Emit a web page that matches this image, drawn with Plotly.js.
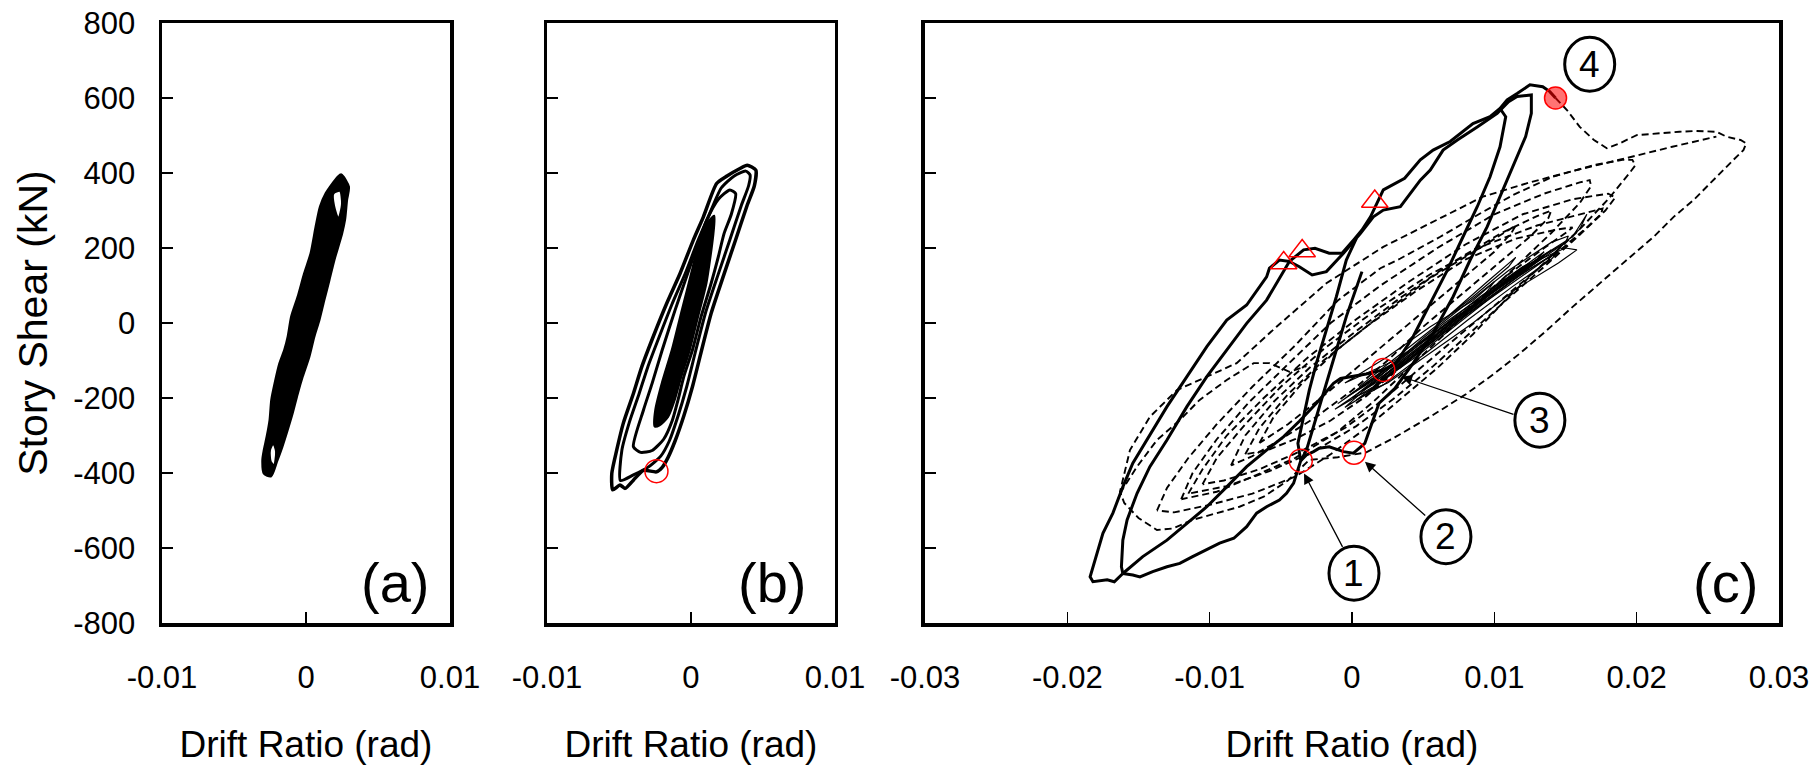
<!DOCTYPE html>
<html><head><meta charset="utf-8">
<script src="https://cdn.plot.ly/plotly-3.0.1.min.js"></script>
<style>html,body{margin:0;padding:0;background:#fff;}#chart{width:1818px;height:765px;}</style>
</head><body><div id="chart"></div>
<script>
// ---------- tick labels ----------
const xTickValsAB = [-0.01, 0, 0.01];
const xTickTextAB = ['-0.01', '0', '0.01'];
const xTickValsC = [-0.03, -0.02, -0.01, 0, 0.01, 0.02, 0.03];
const xTickTextC = ['-0.03', '-0.02', '-0.01', '0', '0.01', '0.02', '0.03'];
const yTickVals = [-800, -600, -400, -200, 0, 200, 400, 600, 800];
const yTickText = ['-800', '-600', '-400', '-200', '0', '200', '400', '600', '800'];
const panelLabels = ['(a)', '(b)', '(c)'];
const xTitle = 'Drift Ratio (rad)';
const yTitle = 'Story Shear (kN)';

// ---------- panel (a): dense hysteresis band ----------
const aOuterX = [0.00224,0.0014,0.001,0.0007,0.00035,-0.0001,-0.00055,-0.001,-0.00124,-0.00148,-0.00182,-0.00215,-0.00238,-0.0025,-0.0027,-0.0029,-0.003,-0.0029,-0.00245,-0.00205,-0.00167,-0.0013,-0.00096,-0.0006,-0.00026,0.0002,0.00055,0.0009,0.00124,0.0016,0.00194,0.00248,0.00268,0.00282,0.00295,0.00245,0.00224];
const aOuterY = [390,346,310,257,186,132,70,17,-36,-72,-108,-161,-205,-259,-303,-339,-365,-401,-408,-370,-330,-285,-241,-188,-143,-90,-36,8,61,115,168,239,275,328,363,395,390];
const aHoleTopX = [0.0019,0.00236,0.0025,0.00225,0.00195,0.0019];
const aHoleTopY = [345,352,318,278,312,345];
const aHoleBotX = [-0.0025,-0.00227,-0.00208,-0.00222,-0.00245,-0.0025];
const aHoleBotY = [-339,-321,-343,-379,-370,-339];

// ---------- panel (b) ----------
const bOuterX = [0.00178,0.00086,0.00016,-0.00076,-0.00169,-0.00262,-0.00342,-0.0040,-0.0047,-0.00516,-0.0055,-0.00544,-0.00493,-0.00458,-0.0040,-0.0033,-0.0024,-0.0020,-0.0016,-0.0011,-0.0005,0.0001,0.0007,0.0014,0.0023,0.0031,0.0039,0.0044,0.0045,0.0039,0.0034,0.0025,0.00178];
const bOuterY = [372,283,221,132,52,-36,-117,-188,-267,-339,-401,-445,-432,-441,-419,-393,-397,-385,-359,-314,-248,-170,-78,26,131,222,314,366,408,421,412,392,372];
const bLoop1X = [-0.0049,-0.0048,-0.0043,-0.0036,-0.0030,-0.0022,-0.0013,-0.0004,0.0005,0.0012,0.0021,0.0030,0.0038,0.0041,0.0040,0.0035,0.0027,0.0019,0.0010,0.0003,-0.0003,-0.0009,-0.0015,-0.0021,-0.0030,-0.0040,-0.0049];
const bLoop1Y = [-420,-339,-267,-188,-117,-36,52,132,221,283,360,392,405,395,366,314,222,131,26,-78,-170,-248,-314,-355,-385,-405,-420];
const bLoop2X = [-0.0040,-0.0033,-0.0027,-0.0020,-0.0011,-0.00015,0.0005,0.0011,0.0019,0.0027,0.0031,0.0028,0.0023,0.0019,0.0014,0.0007,0.0001,-0.0005,-0.0009,-0.0013,-0.0019,-0.0027,-0.0035,-0.0040];
const bLoop2Y = [-330,-232,-161,-72,35,141,213,275,330,355,345,290,239,177,106,17,-72,-143,-205,-260,-310,-340,-345,-330];
const bCoreX = [-0.0025,-0.00245,-0.002,-0.0013,-0.0006,0.0001,0.00056,0.0011,0.0016,0.0015,0.00104,0.00046,-0.00012,-0.0007,-0.00116,-0.00162,-0.0022,-0.0025];
const bCoreY = [-275,-232,-161,-72,35,141,213,262,285,230,106,17,-72,-143,-205,-250,-272,-275];
const bMarkX = [-0.0024];
const bMarkY = [-395];

// ---------- panel (c): thick solid paths ----------
const cLineAX = [-0.0161,-0.0167,-0.0172,-0.0182,-0.0184,-0.0182,-0.0179,-0.0175,-0.0168,-0.0161,-0.0154,-0.0144,-0.0130,-0.0116,-0.0102,-0.0088,-0.0074,-0.0060,-0.0058,-0.0051,-0.0044,-0.0034,-0.0026,-0.0016,-0.0007,0.0001,0.0007,0.0013,0.0022,0.0037,0.0048,0.0057,0.0069,0.0085,0.0097,0.0104,0.0109,0.0116,0.0125,0.0134,0.0139,0.0143];
const cLineAY = [-668,-690,-685,-690,-677,-650,-614,-561,-507,-437,-374,-312,-223,-143,-63,8,48,123,146,168,164,195,199,186,186,221,248,283,355,386,435,461,484,532,550,572,595,612,635,630,617,600];
const cLineBX = [-0.0161,-0.0162,-0.0161,-0.0158,-0.0151,-0.0142,-0.0130,-0.0116,-0.0102,-0.0088,-0.0074,-0.0060,-0.0049,-0.0044,-0.0037,-0.0028,-0.0018,-0.0006,0.0006,0.0015,0.0022,0.0034,0.0048,0.0055,0.0064,0.0074,0.0088,0.0102,0.0110,0.0116,0.0126,0.0126,0.0122,0.0113,0.0104,0.0095,0.0083,0.0071,0.0057,0.0043,0.0030,0.0019,0.0014,0.0009,0.0001,-0.0006,-0.0016,-0.0023,-0.0027,-0.0032,-0.0036];
const cLineBY = [-668,-650,-579,-525,-454,-383,-312,-223,-143,-72,-1,61,132,164,150,128,137,186,239,283,301,310,381,408,461,488,523,559,590,604,608,559,497,417,337,257,168,70,-27,-107,-175,-214,-267,-321,-347,-343,-330,-334,-343,-352,-367];
const cLineCX = [-0.0036,-0.0038,-0.0034,-0.0030,-0.0025,-0.0018,-0.0011,-0.0004,0.0003];
const cLineCY = [-367,-321,-250,-179,-107,-19,70,168,225];
const cLineDX = [0.0007,-0.0004,-0.0011,-0.0018,-0.0025,-0.0032,-0.0036];
const cLineDY = [137,17,-72,-161,-250,-339,-367];
const cLineEX = [-0.0161,-0.0147,-0.0130,-0.0116,-0.0102,-0.0088,-0.0074,-0.0060,-0.0048,-0.0037,-0.0025,-0.0013,-0.0008,0.0010,0.0022];
const cLineEY = [-668,-623,-579,-534,-490,-437,-383,-339,-303,-262,-214,-161,-148,-136,-125];
const cLineFX = [0.0022,0.0031,0.0043,0.0055,0.0067,0.0078,0.0088,0.0097,0.0104,0.0108,0.0104];
const cLineFY = [-125,-107,-36,52,141,230,310,390,470,550,572];
const cLineGX = [-0.0161,-0.0154,-0.0149,-0.0140,-0.0130,-0.0121,-0.0112,-0.0102,-0.0093,-0.0083,-0.0074,-0.0067,-0.0060,-0.0051,-0.0046,-0.0041,-0.0037,-0.0036];
const cLineGY = [-668,-672,-677,-663,-650,-641,-623,-605,-587,-574,-543,-507,-490,-472,-454,-427,-383,-367];

// ---------- panel (c): thin solid small cycles ----------
const cThin1X = [-0.0005,0.0020,0.0050,0.0080,0.0110,0.0140,0.0152,0.0150,0.0125,0.0095,0.0065,0.0035,0.0010,-0.0005];
const cThin1Y = [-225,-140,-40,50,140,215,232,215,150,70,-20,-110,-190,-225];
const cThin2X = [0.0000,0.0030,0.0060,0.0090,0.0120,0.0150,0.0158,0.0145,0.0115,0.0085,0.0055,0.0025,0.0000];
const cThin2Y = [-200,-110,-20,70,150,200,195,160,90,0,-80,-160,-200];
const cThin3X = [0.0010,0.0040,0.0070,0.0100,0.0130,0.0155,0.0165,0.0160,0.0140,0.0110,0.0080,0.0050,0.0020,0.0010];
const cThin3Y = [-190,-90,0,90,170,230,290,250,180,100,20,-70,-160,-190];
const cThin4X = [-0.0010,0.0015,0.0045,0.0075,0.0105,0.0125,0.0120,0.0095,0.0065,0.0035,0.0010,-0.0010];
const cThin4Y = [-215,-150,-60,20,100,160,150,80,0,-90,-160,-215];
const cThin5X = [0.0005,0.0035,0.0065,0.0095,0.0115,0.0110,0.0085,0.0055,0.0025,0.0005];
const cThin5Y = [-170,-80,10,110,175,150,70,-20,-110,-170];
const cThin6X = [0.0020,0.0050,0.0080,0.0110,0.0135,0.0130,0.0100,0.0070,0.0040,0.0020];
const cThin6Y = [-150,-60,30,120,190,170,90,0,-90,-150];
const cThin7X = [-0.0005,0.0025,0.0055,0.0085,0.0100,0.0090,0.0060,0.0030,-0.0005];
const cThin7Y = [-160,-90,-10,60,110,60,-20,-100,-160];
const cThin8X = [-0.0012,0.0015,0.0045,0.0075,0.0105,0.0130,0.0140,0.0132,0.0105,0.0075,0.0045,0.0015,-0.0012];
const cThin8Y = [-230,-160,-75,15,100,170,195,170,90,0,-90,-170,-230];
const cThin9X = [0.0003,0.0033,0.0063,0.0093,0.0123,0.0145,0.0140,0.0112,0.0082,0.0052,0.0022,0.0003];
const cThin9Y = [-205,-120,-30,60,140,190,170,95,10,-80,-165,-205];
const cThin10X = [0.0008,0.0038,0.0068,0.0098,0.0128,0.0148,0.0142,0.0115,0.0085,0.0055,0.0025,0.0008];
const cThin10Y = [-180,-95,-5,85,165,210,185,120,35,-55,-140,-180];
const cThin11X = [-0.0003,0.0027,0.0057,0.0087,0.0117,0.0135,0.0128,0.0100,0.0070,0.0040,0.0010,-0.0003];
const cThin11Y = [-195,-115,-30,55,135,180,160,85,0,-85,-165,-195];
const cThin12X = [0.0015,0.0045,0.0075,0.0105,0.0125,0.0118,0.0090,0.0060,0.0030,0.0015];
const cThin12Y = [-170,-80,10,100,150,135,60,-25,-115,-170];

// ---------- panel (c): dashed cycles ----------
const cDash1X = [0.0143,0.0151,0.0160,0.0170,0.0179,0.0188,0.0200,0.0216,0.0230,0.0242,0.0256,0.0263,0.0273,0.0277,0.0275,0.0268,0.0254,0.0240,0.0226,0.0212,0.0193,0.0174,0.0155,0.0137,0.0118,0.0100,0.0080,0.0055,0.0030,0.0010,-0.0010,-0.0030,-0.0045,-0.0062,-0.0079,-0.0095,-0.0112,-0.0126,-0.0137,-0.0150,-0.0160,-0.0163,-0.0156,-0.0142,-0.0123,-0.0100,-0.0081,-0.0053,-0.0018,0.0022,0.0060,0.0092,0.0125,0.0160,0.0193,0.0225,0.0256];
const cDash1Y = [600,568,523,488,466,479,501,506,510,512,510,497,488,479,461,435,381,328,283,230,168,106,43,-19,-81,-135,-190,-250,-305,-345,-358,-365,-420,-463,-490,-507,-525,-548,-552,-520,-480,-450,-339,-250,-179,-140,-107,-10,106,203,275,337,375,410,440,470,497];
const cDash2X = [-0.0137,-0.0130,-0.0115,-0.0095,-0.0070,-0.0040,-0.0010,0.0020,0.0034,0.0062,0.0090,0.0113,0.0141,0.0170,0.0190,0.0197,0.0199,0.0195,0.0180,0.0160,0.0135,0.0110,0.0085,0.0060,0.0035,0.0010,-0.0015,-0.0040,-0.0070,-0.0100,-0.0125,-0.0137];
const cDash2Y = [-500,-440,-360,-270,-170,-60,60,146,172,230,292,341,390,421,435,435,420,400,330,250,160,70,-30,-120,-200,-280,-350,-410,-455,-485,-505,-500];
const cDash3X = [-0.0120,-0.0112,-0.0095,-0.0072,-0.0045,-0.0015,0.0020,0.0060,0.0100,0.0135,0.0160,0.0167,0.0168,0.0160,0.0140,0.0115,0.0090,0.0065,0.0040,0.0015,-0.0010,-0.0040,-0.0070,-0.0095,-0.0120];
const cDash3Y = [-470,-400,-310,-210,-110,0,100,200,290,345,375,381,365,320,240,150,60,-30,-120,-210,-290,-360,-410,-450,-470];
const cDash4X = [-0.0105,-0.0095,-0.0075,-0.0050,-0.0020,0.0015,0.0055,0.0095,0.0130,0.0160,0.0176,0.0175,0.0165,0.0145,0.0120,0.0095,0.0070,0.0045,0.0020,-0.0005,-0.0035,-0.0065,-0.0090,-0.0105];
const cDash4Y = [-430,-360,-270,-170,-70,30,130,210,260,290,305,290,255,190,110,30,-50,-130,-210,-280,-340,-390,-420,-430];
const cDash5X = [-0.0085,-0.0075,-0.0055,-0.0030,0.0000,0.0035,0.0070,0.0105,0.0130,0.0140,0.0138,0.0125,0.0100,0.0075,0.0050,0.0025,0.0000,-0.0025,-0.0050,-0.0070,-0.0085];
const cDash5Y = [-380,-300,-210,-120,-30,70,160,240,285,300,280,230,150,70,-10,-100,-180,-250,-310,-355,-380];
const cDash6X = [-0.0065,-0.0055,-0.0035,-0.0010,0.0020,0.0055,0.0090,0.0115,0.0112,0.0100,0.0075,0.0050,0.0025,0.0000,-0.0025,-0.0045,-0.0065];
const cDash6Y = [-320,-250,-160,-70,20,120,200,260,240,190,110,30,-50,-130,-210,-270,-320];
const cDash7X = [-0.0163,-0.0151,-0.0137,-0.0121,-0.0107,-0.0088,-0.0069,-0.0058,-0.0044,-0.0032];
const cDash7Y = [-454,-383,-312,-259,-205,-152,-107,-107,-130,-115];
const cDash8X = [-0.0115,-0.0105,-0.0088,-0.0062,-0.0032,0.0003,0.0040,0.0080,0.0120,0.0155,0.0180,0.0185,0.0178,0.0160,0.0135,0.0108,0.0082,0.0057,0.0030,0.0003,-0.0028,-0.0058,-0.0088,-0.0115];
const cDash8Y = [-455,-390,-300,-200,-95,10,110,210,290,330,345,335,300,235,150,60,-30,-115,-200,-275,-345,-395,-435,-455];
const cDash9X = [-0.0075,-0.0065,-0.0045,-0.0020,0.0010,0.0045,0.0080,0.0115,0.0145,0.0155,0.0150,0.0135,0.0110,0.0085,0.0060,0.0035,0.0010,-0.0015,-0.0040,-0.0060,-0.0075];
const cDash9Y = [-350,-280,-190,-100,-10,85,170,225,250,255,240,200,130,50,-30,-115,-195,-260,-310,-340,-350];

// ---------- panel (c): red markers ----------
const cOpenCircX = [-0.0036, 0.00014, 0.0022];
const cOpenCircY = [-367, -346, -125];
const cTriX = [-0.0048, -0.0035, 0.0016];
const cTriY = [160, 192, 324];
const cFillX = [0.0143];
const cFillY = [600];

// ---------- panel (c): circled event numbers and arrows ----------
const evtLabels = ['1', '2', '3', '4'];
const evtX = [0.00014, 0.0066, 0.0132, 0.0167];
const evtY = [-667, -570, -259, 690];
const arrHeadX = [-0.00337, 0.00091, 0.00349];
const arrHeadY = [-401, -370, -143];
const arrTailX = [-0.00061, 0.00525, 0.01145];
const arrTailY = [-601, -517, -245];

// =====================================================
const FONT = 'Liberation Sans, Arial, Helvetica, sans-serif';
const traces = [];
function add(x, y, ax, extra) {
  const n = ax === 1 ? '' : String(ax);
  traces.push(Object.assign({x: x, y: y, xaxis: 'x' + n, yaxis: 'y' + n, mode: 'lines',
    hoverinfo: 'skip', showlegend: false}, extra));
}
// (a)
add(aOuterX, aOuterY, 1, {fill: 'toself', fillcolor: '#000', line: {color: '#000', width: 3, shape: 'spline', smoothing: 0.7}});
add(aHoleTopX, aHoleTopY, 1, {fill: 'toself', fillcolor: '#fff', line: {color: '#000', width: 2, shape: 'spline', smoothing: 0.7}});
add(aHoleBotX, aHoleBotY, 1, {fill: 'toself', fillcolor: '#fff', line: {color: '#000', width: 2, shape: 'spline', smoothing: 0.7}});
// (b)
add(bOuterX, bOuterY, 2, {line: {color: '#000', width: 3.5, shape: 'spline', smoothing: 0.6}});
add(bLoop1X, bLoop1Y, 2, {line: {color: '#000', width: 3, shape: 'spline', smoothing: 0.6}});
add(bLoop2X, bLoop2Y, 2, {line: {color: '#000', width: 3, shape: 'spline', smoothing: 0.6}});
add(bCoreX, bCoreY, 2, {fill: 'toself', fillcolor: '#000', line: {color: '#000', width: 3, shape: 'spline', smoothing: 0.6}});
add(bMarkX, bMarkY, 2, {mode: 'markers', marker: {symbol: 'circle-open', size: 23, color: '#ff0000', line: {width: 1.5, color: '#ff0000'}}});
// (c) dashed
[[cDash1X, cDash1Y], [cDash2X, cDash2Y], [cDash3X, cDash3Y], [cDash4X, cDash4Y], [cDash5X, cDash5Y],
 [cDash6X, cDash6Y], [cDash7X, cDash7Y], [cDash8X, cDash8Y], [cDash9X, cDash9Y]].forEach(function (d) {
  add(d[0], d[1], 3, {line: {color: '#000', width: 1.9, dash: '7px,4px'}});
});
// (c) thin
[[cThin1X, cThin1Y], [cThin2X, cThin2Y], [cThin3X, cThin3Y], [cThin4X, cThin4Y], [cThin5X, cThin5Y], [cThin6X, cThin6Y],
 [cThin7X, cThin7Y], [cThin8X, cThin8Y], [cThin9X, cThin9Y], [cThin10X, cThin10Y], [cThin11X, cThin11Y], [cThin12X, cThin12Y]].forEach(function (d) {
  add(d[0], d[1], 3, {line: {color: '#000', width: 1.2}});
});
// (c) thick
[[cLineAX, cLineAY], [cLineBX, cLineBY], [cLineCX, cLineCY], [cLineDX, cLineDY],
 [cLineEX, cLineEY], [cLineFX, cLineFY], [cLineGX, cLineGY]].forEach(function (d) {
  add(d[0], d[1], 3, {line: {color: '#000', width: 3}});
});
// (c) markers
add(cOpenCircX, cOpenCircY, 3, {mode: 'markers', marker: {symbol: 'circle-open', size: 23, color: '#ff0000', line: {width: 1.5, color: '#ff0000'}}});
add(cTriX, cTriY, 3, {mode: 'markers', marker: {symbol: 'triangle-up-open', size: 23, color: '#ff0000', line: {width: 1.5, color: '#ff0000'}}});
add(cFillX, cFillY, 3, {mode: 'markers', marker: {symbol: 'circle', size: 22, color: 'rgba(255,0,0,0.55)', line: {width: 1.5, color: '#ff0000'}}});

const axCommon = {
  showgrid: false, zeroline: false, showline: true, linecolor: '#000', linewidth: 3.5, mirror: true,
  ticks: 'inside', ticklen: 11, tickwidth: 1.5, tickcolor: '#000', fixedrange: true,
  tickfont: {family: FONT, size: 31, color: '#000'}
};
function xAx(domain, anchor, range, vals, text) {
  return Object.assign({}, axCommon, {domain: domain, anchor: anchor, range: range,
    tickmode: 'array', tickvals: vals, ticktext: text, ticklabelstandoff: 24,
    title: {text: xTitle, font: {family: FONT, size: 37, color: '#000'}, standoff: 38}});
}
function yAx(anchor, showLabels) {
  const o = Object.assign({}, axCommon, {domain: [0, 1], anchor: anchor, range: [-800, 800],
    tickmode: 'array', tickvals: yTickVals, ticktext: yTickText, showticklabels: showLabels});
  if (showLabels) {
    o.ticklabelstandoff = 17;
    o.title = {text: yTitle, font: {family: FONT, size: 41, color: '#000'}, standoff: 14};
  }
  return o;
}

const annotations = [];
const labelX = [0.935, 0.905, 0.978];
['x', 'x2', 'x3'].forEach(function (xa, i) {
  annotations.push({xref: xa + ' domain', yref: (i === 0 ? 'y' : 'y' + (i + 1)) + ' domain',
    x: labelX[i], y: 0.068, xanchor: 'right', yanchor: 'middle', showarrow: false,
    text: panelLabels[i], font: {family: FONT, size: 56, color: '#000'}});
});
evtLabels.forEach(function (t, i) {
  annotations.push({xref: 'x3', yref: 'y3', x: evtX[i], y: evtY[i], showarrow: false,
    text: t, font: {family: FONT, size: 37, color: '#000'}, xanchor: 'center', yanchor: 'middle'});
});
arrHeadX.forEach(function (hx, i) {
  annotations.push({xref: 'x3', yref: 'y3', axref: 'x3', ayref: 'y3', x: hx, y: arrHeadY[i],
    ax: arrTailX[i], ay: arrTailY[i], text: '', showarrow: true, arrowhead: 2, arrowsize: 1.6,
    arrowwidth: 1.3, arrowcolor: '#000', standoff: 0, startstandoff: 0});
});
const shapes = evtX.map(function (cx, i) {
  return {type: 'circle', xref: 'x3', yref: 'y3', xsizemode: 'pixel', ysizemode: 'pixel',
    xanchor: cx, yanchor: evtY[i], x0: -25, x1: 25, y0: -27, y1: 27,
    line: {color: '#000', width: 3}, fillcolor: 'rgba(0,0,0,0)'};
});

const layout = {
  width: 1818, height: 765, paper_bgcolor: '#fff', plot_bgcolor: '#fff',
  margin: {l: 162, r: 39, t: 23, b: 142},
  showlegend: false, font: {family: FONT, color: '#000'},
  xaxis: xAx([0, 0.17811], 'y', [-0.01, 0.01], xTickValsAB, xTickTextAB),
  xaxis2: xAx([0.23810, 0.41620], 'y2', [-0.01, 0.01], xTickValsAB, xTickTextAB),
  xaxis3: xAx([0.47186, 1], 'y3', [-0.03, 0.03], xTickValsC, xTickTextC),
  yaxis: yAx('x', true),
  yaxis2: yAx('x2', false),
  yaxis3: yAx('x3', false),
  annotations: annotations,
  shapes: shapes
};
Plotly.newPlot('chart', traces, layout, {staticPlot: true, displayModeBar: false});
</script>
</body></html>
